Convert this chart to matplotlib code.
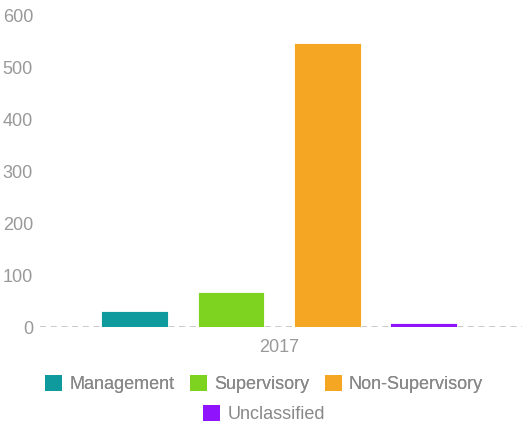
import matplotlib

matplotlib.use("Agg")

import matplotlib.pyplot as plt
from matplotlib.patches import Patch


plt.rcParams["font.family"] = ["Liberation Sans", "DejaVu Sans"]

YEAR = "2017"
CATEGORIES = ["Management", "Supervisory", "Non-Supervisory", "Unclassified"]
VALUES = [30, 67, 546, 7]
COLORS = ["#0f9a9e", "#7ed321", "#f5a623", "#9013fe"]
Y_TICKS = [0, 100, 200, 300, 400, 500, 600]

TEXT_GRAY = "#999999"
LEGEND_GRAY = "#888888"


def draw_chart(output_path):
    fig = plt.figure(figsize=(5.25, 4.24), dpi=100)
    ax = fig.add_axes([40 / 525, 1 - 327 / 424, 482 / 525, 312 / 424])

    positions = list(range(len(CATEGORIES)))
    ax.bar(positions, VALUES, width=0.69, color=COLORS,
           edgecolor="white", linewidth=0.6, zorder=3)

    # dashed baseline at zero, like the original
    ax.axhline(0, color="#bbbbbb", linestyle=(0, (4, 3)), linewidth=1.1, zorder=2)

    ax.set_xlim(-0.98, 4.02)
    ax.set_ylim(0, 600)
    ax.set_yticks(Y_TICKS)
    ax.set_xticks([(len(CATEGORIES) - 1) / 2])
    ax.set_xticklabels([YEAR])

    ax.tick_params(axis="both", length=0, labelsize=13, labelcolor=TEXT_GRAY)
    ax.tick_params(axis="y", pad=5)
    ax.tick_params(axis="x", pad=9)
    for spine in ax.spines.values():
        spine.set_visible(False)
    ax.patch.set_alpha(0)

    handles = [Patch(facecolor=c, edgecolor="none") for c in COLORS]
    legend_style = dict(
        loc="center",
        frameon=False,
        fontsize=13,
        labelcolor=LEGEND_GRAY,
        handlelength=0.95,
        handleheight=0.95,
        handletextpad=0.4,
        columnspacing=0.85,
        borderpad=0,
    )
    first = fig.legend(handles[:3], CATEGORIES[:3], ncol=3,
                       bbox_to_anchor=(264 / 525, 1 - 384 / 424), **legend_style)
    fig.add_artist(first)
    fig.legend(handles[3:], CATEGORIES[3:], ncol=1,
               bbox_to_anchor=(264 / 525, 1 - 414 / 424), **legend_style)

    fig.savefig(output_path, dpi=100)
    plt.close(fig)


if __name__ == "__main__":
    draw_chart("out.png")
